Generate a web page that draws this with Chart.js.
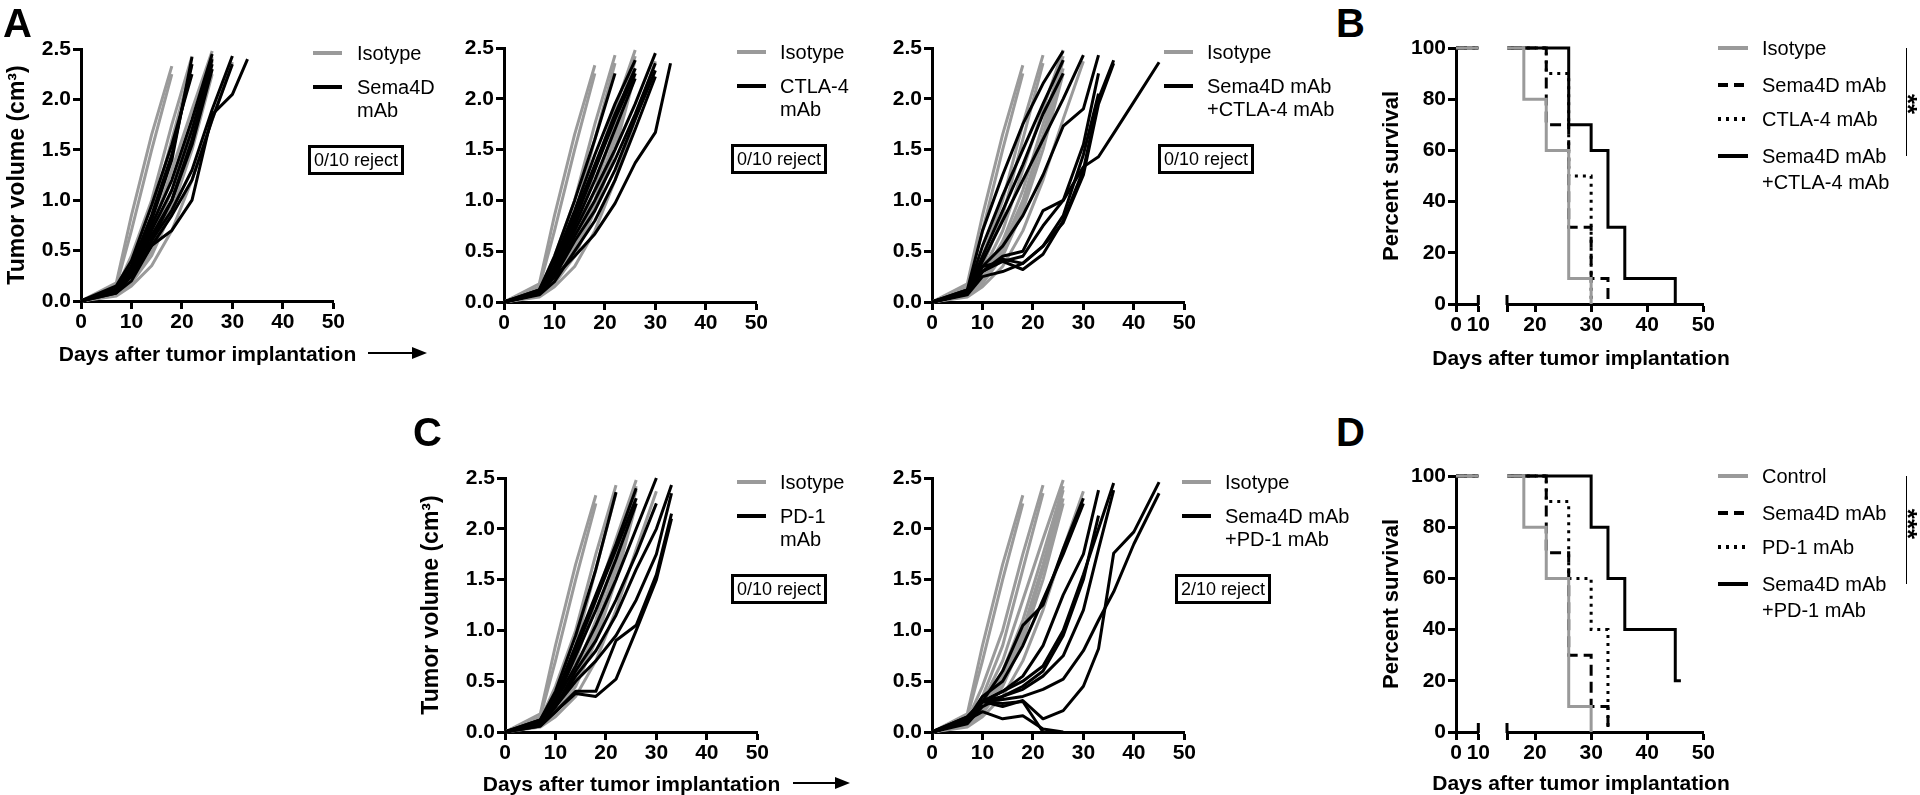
<!DOCTYPE html>
<html><head><meta charset="utf-8">
<script src="https://cdn.jsdelivr.net/npm/chart.js@4.4.0/dist/chart.umd.min.js"></script>
<style>
body{margin:0;width:1920px;height:795px;background:#fff;position:relative;overflow:hidden;font-family:"Liberation Sans",Arial,sans-serif;}
canvas{position:absolute;}
.t{position:absolute;white-space:nowrap;color:#000;line-height:1;}
.letter{font-weight:bold;font-size:40px;}
.leg{font-size:20px;}
.xt{font-weight:bold;font-size:21px;transform:translateX(-50%);}
.box{position:absolute;border:3px solid #000;font-size:18px;display:flex;align-items:center;justify-content:center;box-sizing:border-box;}
svg{position:absolute;overflow:visible;}
</style></head><body>
<script>
// ---------------- DATA ----------------
const DAYS = [0, 7, 10, 14, 18, 22, 26, 30, 33, 36, 40, 45];
const X_TICKS = [0, 10, 20, 30, 40, 50];
const Y_TICKS_VOL = [0, 0.5, 1.0, 1.5, 2.0, 2.5];
const Y_TICKS_SURV = [0, 20, 40, 60, 80, 100];

const isotypeVol = [
  [0, 0.18, 0.85, 1.65, 2.33],
  [0, 0.15, 0.70, 1.50, 2.25],
  [0, 0.12, 0.45, 1.00, 1.75, 2.43],
  [0, 0.10, 0.35, 0.85, 1.60, 2.35],
  [0, 0.10, 0.30, 0.70, 1.30, 1.90, 2.48],
  [0, 0.08, 0.25, 0.60, 1.10, 1.75, 2.42],
  [0, 0.08, 0.20, 0.50, 0.95, 1.60, 2.30],
  [0, 0.06, 0.18, 0.45, 0.90, 1.50, 2.25],
  [0, 0.07, 0.22, 0.55, 1.00, 1.65, 2.38],
  [0, 0.05, 0.15, 0.35, 0.70, 1.20, 1.80, 2.37]
];
const sema4dVol = [
  [0, 0.15, 0.40, 0.95, 1.55, 2.25],
  [0, 0.12, 0.35, 0.85, 1.45, 2.35],
  [0, 0.10, 0.30, 0.80, 1.40, 2.42],
  [0, 0.12, 0.30, 0.75, 1.20, 1.80, 2.45],
  [0, 0.10, 0.25, 0.70, 1.10, 1.70, 2.40],
  [0, 0.10, 0.30, 0.65, 1.00, 1.60, 2.35],
  [0, 0.08, 0.25, 0.60, 1.00, 1.55, 2.30],
  [0, 0.10, 0.25, 0.60, 0.90, 1.30, 1.90, 2.43],
  [0, 0.08, 0.20, 0.55, 0.85, 1.20, 1.80, 2.35],
  [0, 0.10, 0.25, 0.55, 0.70, 1.00, 1.85, 2.05, 2.40]
];
const ctla4Vol = [
  [0, 0.12, 0.45, 1.00, 1.60, 2.25],
  [0, 0.12, 0.40, 0.90, 1.45, 1.95, 2.38],
  [0, 0.10, 0.35, 0.85, 1.35, 1.85, 2.30],
  [0, 0.10, 0.30, 0.80, 1.30, 1.80, 2.25],
  [0, 0.10, 0.30, 0.75, 1.20, 1.70, 2.20],
  [0, 0.10, 0.30, 0.70, 1.10, 1.50, 1.95, 2.45],
  [0, 0.08, 0.25, 0.65, 1.00, 1.40, 1.85, 2.35],
  [0, 0.08, 0.25, 0.60, 0.90, 1.30, 1.80, 2.28],
  [0, 0.07, 0.20, 0.50, 0.80, 1.20, 1.70, 2.22],
  [0, 0.08, 0.25, 0.45, 0.67, 0.97, 1.37, 1.67, 2.35]
];
const sema4dCtla4Vol = [
  [0, 0.12, 0.70, 1.25, 1.75, 2.15, 2.47],
  [0, 0.10, 0.55, 1.05, 1.50, 1.95, 2.38],
  [0, 0.10, 0.45, 0.90, 1.35, 1.85, 2.25],
  [0, 0.10, 0.40, 0.80, 1.20, 1.60, 2.00, 2.43],
  [0, 0.12, 0.35, 0.55, 0.85, 1.25, 1.73, 1.90, 2.43],
  [0, 0.10, 0.35, 0.40, 0.45, 0.75, 1.00, 1.55, 2.25],
  [0, 0.08, 0.30, 0.42, 0.38, 0.55, 0.85, 1.45, 2.05],
  [0, 0.08, 0.30, 0.40, 0.32, 0.47, 0.80, 1.30, 2.00, 2.38],
  [0, 0.07, 0.25, 0.30, 0.38, 0.55, 0.78, 1.25, 1.95, 2.35],
  [0, 0.08, 0.30, 0.45, 0.50, 0.90, 1.00, 1.33, 1.43, 1.66, 1.97, 2.36]
];
const pd1Vol = [
  [0, 0.12, 0.40, 0.95, 1.60, 2.36],
  [0, 0.12, 0.35, 0.85, 1.35, 1.85, 2.40],
  [0, 0.10, 0.30, 0.80, 1.30, 1.80, 2.30],
  [0, 0.10, 0.30, 0.75, 1.20, 1.70, 2.25],
  [0, 0.10, 0.30, 0.65, 1.05, 1.50, 2.00, 2.50],
  [0, 0.08, 0.25, 0.60, 0.90, 1.30, 1.75, 2.25],
  [0, 0.08, 0.25, 0.55, 0.80, 1.15, 1.60, 2.00, 2.43],
  [0, 0.08, 0.25, 0.50, 0.70, 0.95, 1.30, 1.75, 2.35],
  [0, 0.06, 0.20, 0.40, 0.40, 0.90, 1.05, 1.55, 2.15],
  [0, 0.06, 0.20, 0.38, 0.35, 0.52, 1.00, 1.50, 2.10]
];
const sema4dPd1Vol = [
  [0, 0.15, 0.30, 0.60, 1.05, 1.25, 1.80, 2.30],
  [0, 0.12, 0.35, 0.50, 0.85, 1.30, 1.75, 2.25],
  [0, 0.10, 0.30, 0.40, 0.55, 0.85, 1.35, 1.75, 2.38],
  [0, 0.10, 0.30, 0.35, 0.45, 0.60, 0.95, 1.50, 2.13],
  [0, 0.10, 0.30, 0.40, 0.50, 0.65, 1.00, 1.55, 2.00, 2.45],
  [0, 0.08, 0.25, 0.35, 0.42, 0.55, 0.75, 1.20, 1.80, 2.38],
  [0, 0.10, 0.30, 0.32, 0.35, 0.42, 0.52, 0.80, 1.10, 1.38, 1.85, 2.35],
  [0, 0.10, 0.30, 0.25, 0.31, 0.13, 0.21, 0.45, 0.82, 1.76, 1.97, 2.46],
  [0, 0.12, 0.20, 0.13, 0.16, 0.03, 0],
  [0, 0.15, 0.30, 0.28, 0.30, 0]
];

// survival (Kaplan-Meier steps)
const survIsoDays = [0, 18, 22, 26, 30];        const survIso = [100, 80, 60, 10, 0];
const survSemaDays = [0, 22, 26, 30, 33];       const survSema = [100, 70, 30, 10, 0];
const survCtlaDays = [0, 22, 26, 30];           const survCtla = [100, 90, 50, 0];
const survComboBDays = [0, 26, 30, 33, 36, 45]; const survComboB = [100, 70, 60, 30, 10, 0];
const survPd1Days = [0, 22, 26, 30, 33];        const survPd1 = [100, 90, 60, 40, 0];
const survComboDDays = [0, 30, 33, 36, 45, 46]; const survComboD = [100, 80, 60, 40, 20, 20];

// ---------------- RENDER ----------------
const GREY = '#9a9a9a';
const FONT = "'Liberation Sans', Arial, sans-serif";
Chart.defaults.font.family = FONT;
Chart.defaults.color = '#000';
const TICK_FONT = { size: 21, weight: 'bold' };

function addDiv(cls, html, left, top, extra) {
  const d = document.createElement('div');
  d.className = cls; d.innerHTML = html;
  d.style.left = left + 'px'; d.style.top = top + 'px';
  if (extra) Object.assign(d.style, extra);
  document.body.appendChild(d); return d;
}
function addCanvas(left, top, w, h) {
  const c = document.createElement('canvas');
  c.width = w; c.height = h; c.style.left = left + 'px'; c.style.top = top + 'px';
  c.style.width = w + 'px'; c.style.height = h + 'px';
  document.body.appendChild(c); return c;
}
function volSet(vals, color) {
  return { data: vals.map((y, i) => ({ x: DAYS[i], y })), borderColor: color, borderWidth: 3,
    pointRadius: 0, tension: 0, fill: false, clip: false, borderJoinStyle: 'round' };
}
const axisCommon = () => ({
  grid: { drawOnChartArea: false, drawTicks: true, tickLength: 8, tickWidth: 3, tickColor: '#000' },
  border: { display: true, color: '#000', width: 3 },
});
function linePanel(p) {
  const c = addCanvas(p.left, p.top, p.w, p.h);
  const datasets = p.treat.map(v => volSet(v, '#000')).concat(isotypeVol.map(v => volSet(v, GREY)));
  new Chart(c, {
    type: 'line', data: { datasets },
    options: {
      responsive: false, animation: false, devicePixelRatio: 1,
      layout: { autoPadding: false, padding: { top: p.padTop, right: p.padRight, left: 0, bottom: 0 } },
      plugins: { legend: { display: false }, tooltip: { enabled: false } },
      scales: {
        x: Object.assign(axisCommon(), {
          type: 'linear', min: 0, max: 50,
          afterBuildTicks: s => { s.ticks = X_TICKS.map(v => ({ value: v })); },
          ticks: { font: TICK_FONT, color: '#000', padding: 1, maxRotation: 0, autoSkip: false },
          afterFit: s => { s.height = p.xH; }
        }),
        y: Object.assign(axisCommon(), {
          min: 0, max: 2.5,
          afterBuildTicks: s => { s.ticks = Y_TICKS_VOL.map(v => ({ value: v })); },
          ticks: { font: TICK_FONT, color: '#000', padding: 2, callback: v => Number(v).toFixed(1), autoSkip: false },
          title: { display: !!p.yTitle, text: p.yTitle || '', color: '#000', font: { size: 23, weight: 'bold' }, padding: { top: p.yTitlePad || 0, bottom: 0 } },
          afterFit: s => { s.width = p.yW; }
        })
      }
    }
  });
}
const capPlugin = {
  id: 'caps',
  afterDraw(chart, args, opts) {
    if (!opts || !opts.values) return;
    const ctx = chart.ctx, xs = chart.scales.x, y0 = chart.scales.y.getPixelForValue(0);
    ctx.save(); ctx.strokeStyle = '#000'; ctx.lineWidth = 3;
    opts.values.forEach(v => { const x = xs.getPixelForValue(v); ctx.beginPath(); ctx.moveTo(x, y0 - 9); ctx.lineTo(x, y0 + 1); ctx.stroke(); });
    ctx.restore();
  }
};
function survSet(days, vals, color, dash) {
  return { data: days.map((d, i) => ({ x: d, y: vals[i] })), stepped: true, borderColor: color, borderWidth: 3,
    borderDash: dash, pointRadius: 0, fill: false, clip: { left: 0, right: 0, top: 5, bottom: 5 } };
}
function survPanel(p) {
  const sets = () => p.curves.map(cv => survSet(cv.days, cv.vals, cv.color, cv.dash));
  const c1 = addCanvas(1370, p.top, 121, p.h);
  new Chart(c1, {
    type: 'line', data: { datasets: sets() }, plugins: [capPlugin],
    options: {
      responsive: false, animation: false, devicePixelRatio: 1,
      layout: { autoPadding: false, padding: { top: p.padTop, right: 6, left: 0, bottom: 0 } },
      plugins: { legend: { display: false }, tooltip: { enabled: false }, caps: { values: [10] } },
      scales: {
        x: Object.assign(axisCommon(), {
          type: 'linear', min: 0, max: 10,
          afterBuildTicks: s => { s.ticks = [0, 10].map(v => ({ value: v })); },
          ticks: { font: TICK_FONT, color: '#000', padding: 1, maxRotation: 0, autoSkip: false },
          afterFit: s => { s.height = p.xH; }
        }),
        y: Object.assign(axisCommon(), {
          min: 0, max: 100,
          afterBuildTicks: s => { s.ticks = Y_TICKS_SURV.map(v => ({ value: v })); },
          ticks: { font: TICK_FONT, color: '#000', padding: 2, autoSkip: false },
          title: { display: true, text: 'Percent survival', color: '#000', font: { size: 22, weight: 'bold' }, padding: { top: 9, bottom: 0 } },
          afterFit: s => { s.width = 86; }
        })
      }
    }
  });
  const c2 = addCanvas(1500, p.top, 216, p.h);
  new Chart(c2, {
    type: 'line', data: { datasets: sets() }, plugins: [capPlugin],
    options: {
      responsive: false, animation: false, devicePixelRatio: 1,
      layout: { autoPadding: false, padding: { top: p.padTop, right: 10, left: 7, bottom: 0 } },
      plugins: { legend: { display: false }, tooltip: { enabled: false }, caps: { values: [15] } },
      scales: {
        x: Object.assign(axisCommon(), {
          type: 'linear', min: 15, max: 50,
          afterBuildTicks: s => { s.ticks = [15, 20, 30, 40, 50].map(v => ({ value: v })); },
          ticks: { font: TICK_FONT, color: '#000', padding: 1, maxRotation: 0, autoSkip: false,
                   callback: v => (v === 15 ? '' : v) },
          afterFit: s => { s.height = p.xH; }
        }),
        y: { display: false, min: 0, max: 100 }
      }
    }
  });
}

// ---- tumour growth panels ----
linePanel({ left: 0, top: 0, w: 346, h: 340, padTop: 49, padRight: 12, yW: 81, xH: 39,
  treat: sema4dVol, yTitle: 'Tumor volume (cm\u00B3)', yTitlePad: 4 });
linePanel({ left: 440, top: 0, w: 329, h: 345, padTop: 48, padRight: 12, yW: 64, xH: 43, treat: ctla4Vol });
linePanel({ left: 868, top: 0, w: 329, h: 345, padTop: 48, padRight: 12, yW: 64, xH: 43, treat: sema4dCtla4Vol });
linePanel({ left: 416, top: 420, w: 354, h: 350, padTop: 58, padRight: 12, yW: 89, xH: 38,
  treat: pd1Vol, yTitle: 'Tumor volume (cm\u00B3)', yTitlePad: 2 });
linePanel({ left: 868, top: 420, w: 329, h: 370, padTop: 58, padRight: 12, yW: 64, xH: 58, treat: sema4dPd1Vol });

// ---- survival panels ----
survPanel({ top: 0, h: 345, padTop: 48, xH: 41, curves: [
  { days: survIsoDays, vals: survIso, color: GREY, dash: [] },
  { days: survSemaDays, vals: survSema, color: '#000', dash: [11, 6] },
  { days: survCtlaDays, vals: survCtla, color: '#000', dash: [3, 5] },
  { days: survComboBDays, vals: survComboB, color: '#000', dash: [] } ] });
survPanel({ top: 428, h: 345, padTop: 48, xH: 41, curves: [
  { days: survIsoDays, vals: survIso, color: GREY, dash: [] },
  { days: survSemaDays, vals: survSema, color: '#000', dash: [11, 6] },
  { days: survPd1Days, vals: survPd1, color: '#000', dash: [3, 5] },
  { days: survComboDDays, vals: survComboD, color: '#000', dash: [] } ] });

// ---- text, legends, annotations ----
addDiv('t letter', 'A', 3, 3);
addDiv('t letter', 'B', 1336, 3);
addDiv('t letter', 'C', 413, 412);
addDiv('t letter', 'D', 1336, 412);

function svgLine(x1, x2, y, color, dash, w) {
  const ns = 'http://www.w3.org/2000/svg';
  const s = document.createElementNS(ns, 'svg');
  s.setAttribute('width', '1920'); s.setAttribute('height', '795');
  s.style.left = '0px'; s.style.top = '0px';
  const l = document.createElementNS(ns, 'line');
  l.setAttribute('x1', x1); l.setAttribute('x2', x2); l.setAttribute('y1', y); l.setAttribute('y2', y);
  l.setAttribute('stroke', color); l.setAttribute('stroke-width', w || 4);
  if (dash) l.setAttribute('stroke-dasharray', dash);
  s.appendChild(l); document.body.appendChild(s);
}
function volLegend(lx, tx, y0, line2a, line2b, boxL, boxW, reject) {
  svgLine(lx, lx + 29, y0, GREY); addDiv('t leg', 'Isotype', tx, y0 - 10);
  svgLine(lx, lx + 29, y0 + 34, '#000'); addDiv('t leg', line2a, tx, y0 + 24);
  addDiv('t leg', line2b, tx, y0 + 47);
  addDiv('box', reject, boxL, y0 + 92, { width: boxW + 'px', height: '30px' });
}
volLegend(313, 357, 53, 'Sema4D', 'mAb', 308, 96, '0/10 reject');
volLegend(737, 780, 52, 'CTLA-4', 'mAb', 731, 96, '0/10 reject');
volLegend(1164, 1207, 52, 'Sema4D mAb', '+CTLA-4 mAb', 1158, 96, '0/10 reject');
volLegend(737, 780, 482, 'PD-1', 'mAb', 731, 96, '0/10 reject');
volLegend(1182, 1225, 482, 'Sema4D mAb', '+PD-1 mAb', 1175, 96, '2/10 reject');

function survLegend(y0, labels, stars, starDy) {
  const styles = [[GREY, null], ['#000', '10,6'], ['#000', '3,5'], ['#000', null]];
  const offs = [0, 37, 71, 108];
  for (let i = 0; i < 4; i++) {
    svgLine(1718, 1748, y0 + offs[i], styles[i][0], styles[i][1], 4);
    addDiv('t leg', labels[i], 1762, y0 + offs[i] - 10);
  }
  addDiv('t leg', labels[4], 1762, y0 + 134 - 10);
  addDiv('t', '', 1906, y0, { width: '0px', height: '108px', borderLeft: '1.5px solid #000' });
  addDiv('t', stars, 1908, y0 + starDy, { fontSize: '26px', fontWeight: 'bold', transform: 'translate(-50%,-50%) rotate(90deg)' });
}
survLegend(48, ['Isotype', 'Sema4D mAb', 'CTLA-4 mAb', 'Sema4D mAb', '+CTLA-4 mAb'], '**', 56);
survLegend(476, ['Control', 'Sema4D mAb', 'PD-1 mAb', 'Sema4D mAb', '+PD-1 mAb'], '***', 48);

addDiv('t xt', 'Days after tumor implantation', 207.5, 343);
addDiv('t xt', 'Days after tumor implantation', 631.5, 773);
addDiv('t xt', 'Days after tumor implantation', 1581, 347);
addDiv('t xt', 'Days after tumor implantation', 1581, 772);

function arrow(x1, x2, y) {
  const ns = 'http://www.w3.org/2000/svg';
  const s = document.createElementNS(ns, 'svg');
  s.setAttribute('width', '1920'); s.setAttribute('height', '795'); s.style.left = '0px'; s.style.top = '0px';
  const l = document.createElementNS(ns, 'line');
  l.setAttribute('x1', x1); l.setAttribute('x2', x2 - 10); l.setAttribute('y1', y); l.setAttribute('y2', y);
  l.setAttribute('stroke', '#000'); l.setAttribute('stroke-width', 2);
  const p = document.createElementNS(ns, 'polygon');
  p.setAttribute('points', `${x2},${y} ${x2 - 15},${y - 6} ${x2 - 15},${y + 6}`);
  s.appendChild(l); s.appendChild(p); document.body.appendChild(s);
}
arrow(368, 427, 353);
arrow(793, 850, 783);
</script>
</body></html>
